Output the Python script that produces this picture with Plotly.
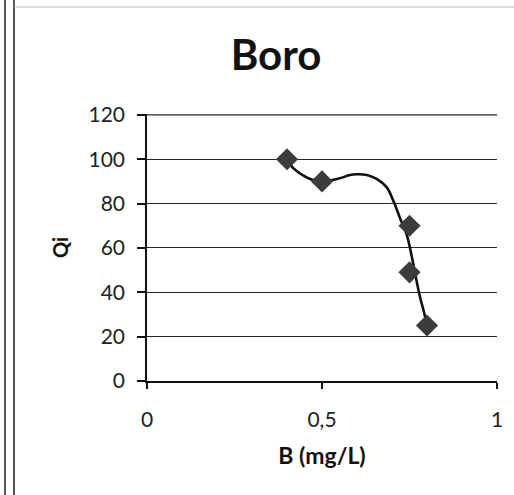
import plotly.graph_objects as go

# Data: measured points
b_mgL = [0.4, 0.5, 0.75, 0.75, 0.8]
qi = [100, 90, 70, 49, 25]

# Reference quality curve (separate series)
curve_b = [0.40, 0.418, 0.447, 0.475, 0.513, 0.551, 0.58, 0.60, 0.628,
           0.656, 0.685, 0.705, 0.723, 0.742, 0.756, 0.768, 0.78, 0.79, 0.799]
curve_qi = [100, 96, 92.6, 90.6, 90.3, 91.4, 92.9, 93.2, 92.9,
            91.1, 87.3, 80.8, 73.4, 66.0, 56.5, 46.9, 37.9, 31.9, 25.9]

title_text = "Boro"
x_title = "B (mg/L)"
y_title = "Qi"
x_ticks = [0, 0.5, 1]
x_ticktext = ["0", "0,5", "1"]
y_ticks = [0, 20, 40, 60, 80, 100, 120]

fig = go.Figure()
fig.add_trace(go.Scatter(
    x=curve_b, y=curve_qi, mode="lines",
    line=dict(shape="spline", smoothing=1.0, color="#111111", width=2.6),
    showlegend=False, hoverinfo="skip",
))
fig.add_trace(go.Scatter(
    x=b_mgL, y=qi, mode="markers",
    marker=dict(symbol="diamond", size=17, color="#3c3c3c",
                line=dict(width=0)),
    showlegend=False,
))

fig.update_layout(
    width=514, height=495,
    margin=dict(l=147, r=17, t=114, b=114),
    paper_bgcolor="white", plot_bgcolor="white",
    separators=",.",
    font=dict(family="Lato, Open Sans, sans-serif", color="#222222"),
    title=dict(text="<b>" + title_text + "</b>", x=0.537, xanchor="center",
               y=0.888, yanchor="middle",
               font=dict(size=42, color="#111111")),
    xaxis=dict(range=[0, 1], tickvals=x_ticks, ticktext=x_ticktext,
               showgrid=False, showline=True, linecolor="#111111", linewidth=1.6,
               ticks="outside", ticklen=6, tickcolor="#111111", tickwidth=1.5,
               ticklabelstandoff=13,
               tickfont=dict(size=21, color="#222222"), zeroline=False,
               title=dict(text="<b>" + x_title + "</b>",
                          font=dict(size=23, color="#111111"),
                          standoff=18)),
    yaxis=dict(range=[0, 120.4], tickvals=y_ticks,
               showgrid=True, gridcolor="#262626", gridwidth=1.4,
               showline=True, linecolor="#111111", linewidth=1.6,
               ticks="outside", ticklen=8, tickcolor="#111111", tickwidth=1.5,
               ticklabelstandoff=8,
               tickfont=dict(size=21, color="#222222"), zeroline=False,
               title=dict(text="<b>" + y_title + "</b>",
                          font=dict(size=20, color="#111111"),
                          standoff=14)),
)

# top gridline at the last y tick (plotly omits it at the range edge)
fig.add_shape(type="line", xref="paper", yref="y", x0=0, x1=1,
              y0=y_ticks[-1], y1=y_ticks[-1],
              line=dict(color="#262626", width=1.4), layer="below")

# scan artifacts: double border on the left and thin top line
for xp in [5, 14]:
    fig.add_shape(type="line", xref="paper", yref="paper",
                  x0=(xp - 147) / 350, x1=(xp - 147) / 350,
                  y0=-114 / 267, y1=(495 - 114) / 267,
                  line=dict(color="#555555", width=2))
fig.add_shape(type="line", xref="paper", yref="paper",
              x0=(14 - 147) / 350, x1=(514 - 147) / 350,
              y0=(381 - 7) / 267, y1=(381 - 7) / 267,
              line=dict(color="#bbbbbb", width=1))

fig.write_html("out.html")
